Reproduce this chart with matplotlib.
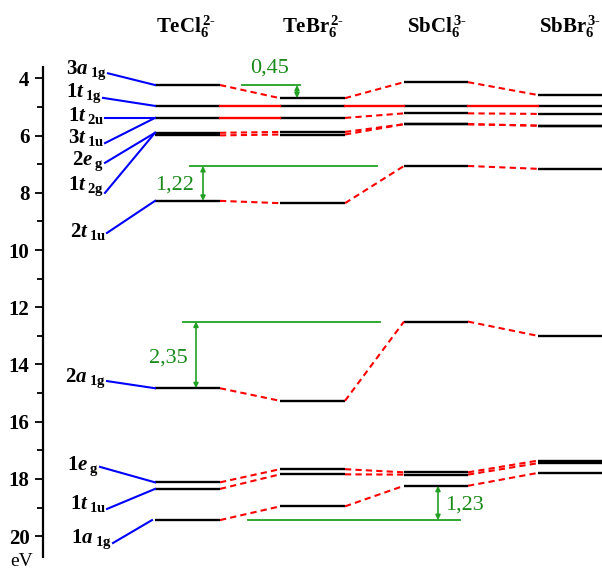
import matplotlib.pyplot as plt

plt.rcParams['mathtext.fontset'] = 'custom'
plt.rcParams['mathtext.rm'] = 'Liberation Serif:bold'
plt.rcParams['mathtext.it'] = 'Liberation Serif:italic:bold'
plt.rcParams['mathtext.bf'] = 'Liberation Serif:bold'
plt.rcParams['font.family'] = 'Liberation Serif'

# energy levels, eV (same order in every column)
tecl6 = [4.23, 4.96, 5.38, 5.90, 5.99, 8.28, 14.83, 18.12, 18.35, 19.44]
tebr6 = [4.69, 4.96, 5.38, 5.87, 5.96, 8.36, 15.27, 17.66, 17.84, 18.96]
sbcl6 = [4.13, 4.96, 5.22, 5.60, 5.60, 7.06, 12.50, 17.77, 17.85, 18.24]
sbbr6 = [4.58, 4.96, 5.24, 5.65, 5.65, 7.16, 13.00, 17.36, 17.45, 17.79]
columns = [tecl6, tebr6, sbcl6, sbbr6]
titles = [r'$\mathrm{TeCl}_6^{\,2\text{-}}$', r'$\mathrm{TeBr}_6^{\,2\text{-}}$',
          r'$\mathrm{SbCl}_6^{\,3\text{-}}$', r'$\mathrm{SbBr}_6^{\,3\text{-}}$']

# orbital labels and the TeCl6 level each one points to
orb_names = ['3a', '1t', '1t', '3t', '2e', '1t', '2t', '2a', '1e', '1t', '1a']
orb_subs = ['1g', '1g', '2u', '1u', 'g', '2g', '1u', '1g', 'g', '1u', '1g']
orb_target = [0, 1, 2, 2, 3, 3, 5, 6, 7, 8, 9]

# energy gaps shown in green
gap_text = ['0,45', '1,22', '2,35', '1,23']

# layout
col_x = [(155, 220), (280, 345), (404, 468), (538, 602)]
title_x = [186, 313, 437, 570]
lab_x = [108, 103, 105, 105, 105, 105, 107, 107, 100, 107, 113]
lab_y = [3.70, 4.52, 5.30, 6.08, 6.90, 7.78, 9.35, 14.47, 17.55, 18.85, 20.12]
line_y = [3.82, 4.68, 5.38, 6.26, 6.95, 8.00, 9.40, 14.58, 17.58, 19.05, 20.24]
line_end_x = [155, 155, 155, 155, 155, 155, 155, 155, 155, 155, 152]

fig = plt.figure(figsize=(6.02, 5.71), dpi=100)
ax = fig.add_axes([42.7 / 602, 14 / 571, 1 - 42.7 / 602, 490 / 571])
ax.set_xlim(42.7, 602)
ax.set_ylim(20.73, 3.6)

# levels
for (x0, x1), lev in zip(col_x, columns):
    for e in lev:
        ax.plot([x0, x1], [e, e], color='black', lw=1.7, solid_capstyle='butt')

# connections between neighbouring columns
for i in range(len(columns) - 1):
    a, b = columns[i], columns[i + 1]
    xa, xb = col_x[i][1], col_x[i + 1][0]
    for ea, eb in zip(a, b):
        if ea == eb:
            ax.plot([xa, xb], [ea, eb], color='red', lw=1.7)
        else:
            ax.plot([xa, xb], [ea, eb], color='red', lw=1.5, ls=(0, (3, 2)))

# orbital labels
for n, s, t, lx, ly, sy, ex in zip(orb_names, orb_subs, orb_target, lab_x, lab_y, line_y, line_end_x):
    ax.plot([lx, ex], [sy, tecl6[t]], color='blue', lw=1.5)
    ax.text(lx - 1, ly, r'$\mathit{%s}_{\;\mathrm{%s}}$' % (n, s), fontsize=15,
            ha='right', va='center')

# titles
for tx, tt in zip(title_x, titles):
    ax.text(tx, 2.2, tt, fontsize=15, ha='center', va='center', clip_on=False)

# green gap markers
green = '#22a022'
gaps = [
    (242, 300, 297, tecl6[0], tebr6[0], 270, 3.62, 'center'),
    (190, 377, 203, sbcl6[5], tecl6[5], 194, 7.72, 'right'),
    (183, 380, 196, sbcl6[6], tecl6[6], 188, 13.77, 'right'),
    (248, 460, 438, tecl6[9], sbcl6[9], 445, 18.90, 'left'),
]
for (g0, g1, gx, ref, other, tx, ty, ha), txt in zip(gaps, gap_text):
    ax.plot([g0, g1], [ref, ref], color=green, lw=1.3)
    ax.annotate('', xy=(gx, other), xytext=(gx, ref),
                arrowprops=dict(arrowstyle='<|-|>', color=green, lw=1.2,
                                mutation_scale=7, shrinkA=0, shrinkB=0))
    ax.text(tx, ty, txt, color='#1a8a1a', fontsize=16, ha=ha, va='center')

# axis
for sp in ['top', 'right', 'bottom']:
    ax.spines[sp].set_visible(False)
ax.spines['left'].set_linewidth(1.6)
ax.set_xticks([])
ax.set_yticks(range(4, 21, 2))
ax.set_yticks(range(5, 20, 2), minor=True)
ax.tick_params(axis='y', which='major', length=6, width=1.3, labelsize=15)
ax.tick_params(axis='y', which='minor', length=4, width=1.3)
for lab in ax.get_yticklabels():
    lab.set_fontweight('bold')
ax.text(22, 20.9, 'eV', fontsize=14, ha='center', va='center', clip_on=False)

fig.savefig('out.png', dpi=100)
